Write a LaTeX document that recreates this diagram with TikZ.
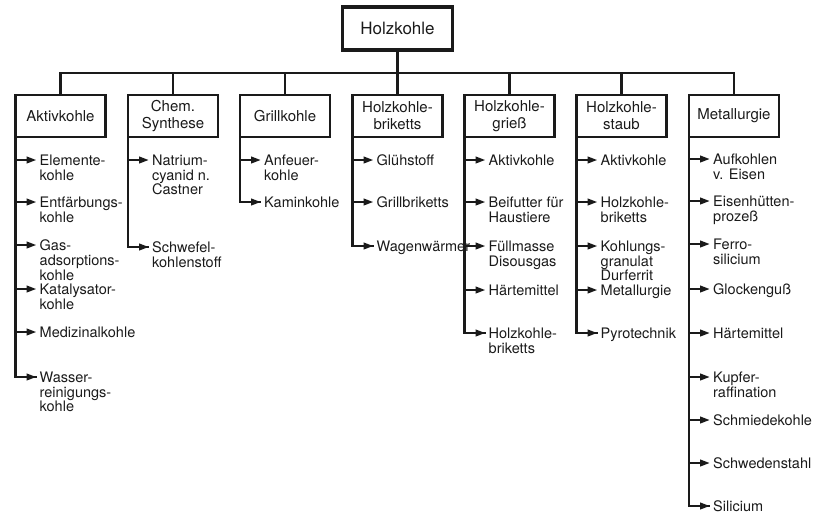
\documentclass[tikz,border=0pt]{standalone}
\usepackage{fontspec}
\setmainfont{TeX Gyre Heros}
\usetikzlibrary{arrows.meta,calc}
\definecolor{ink}{HTML}{1A1A1A}
\tikzset{
  topbox/.style={draw=ink, line width=3.2pt, outer sep=0pt, minimum width=110pt,
    minimum height=43pt, font=\fontsize{17}{18}\selectfont, text=ink},
  catbox/.style={draw=ink, line width=2.6pt, outer sep=0pt, minimum width=90pt,
    minimum height=42pt, align=center, font=\fontsize{15}{17}\selectfont, text=ink},
  leaf/.style={anchor=north west, inner sep=0pt, align=left, text=ink,
    font=\fontsize{14.5}{14.8}\selectfont, execute at begin node=\strut},
  link/.style={draw=ink, line width=2.4pt},
  arr/.style={link, -{Triangle[length=10pt,width=6.5pt]}},
}
% one column of uses below a category box: #1 box, #2 y of last entry, #3 entries y/text
\newcommand\branch[3]{%
  \foreach \iy/\itext in {#3} {
    \coordinate (#1-tip-\iy) at ([xshift=21pt]#1.south west |- 0,\iy);
    \node[leaf] (#1-\iy) at ([xshift=3pt,yshift=5.5pt]#1-tip-\iy) {\itext};
    \draw[arr] (#1.south west |- #1-tip-\iy) -- (#1-tip-\iy);
  }
  \draw[link] (#1.south west) |- (#1-tip-#2);
}
\begin{document}
\begin{tikzpicture}[x=1pt,y=-1pt]
\useasboundingbox (0,0) rectangle (815,515);

\node[topbox] (root) at (397.5,28.5) {Holzkohle};
\coordinate (bus) at (0,73);

\node[catbox] (akt) at (60.5,116) {Aktivkohle};
\node[catbox] (chem) at (173,116) {Chem.\\Synthese};
\node[catbox] (grill) at (285,116) {Grillkohle};
\node[catbox] (brik) at (397.5,116) {Holzkohle-\\briketts};
\node[catbox] (gries) at (509.5,116) {Holzkohle-\\grieß};
\node[catbox] (staub) at (621.5,116) {Holzkohle-\\staub};
\node[catbox] (met) at (734,116) {Metallurgie};

% distribution bus from the root to the categories
\draw[link] (root.south) -- (root.south |- bus);
\draw[link, line cap=rect] (akt.north |- bus) -- (met.north |- bus);
\foreach \c in {akt,chem,grill,brik,gries,staub,met}
  \draw[link] (\c.north |- bus) -- (\c.north);

\branch{akt}{377}{160/{Elemente-\\kohle}, 202/{Entfärbungs-\\kohle},
  245/{Gas-\\adsorptions-\\kohle}, 289/{Katalysator-\\kohle},
  332/{Medizinalkohle}, 377/{Wasser-\\reinigungs-\\kohle}}
\branch{chem}{247}{160/{Natrium-\\cyanid n.\\Castner}, 247/{Schwefel-\\kohlenstoff}}
\branch{grill}{202}{160/{Anfeuer-\\kohle}, 202/{Kaminkohle}}
\branch{brik}{246}{160/{Glühstoff}, 202/{Grillbriketts}, 246/{Wagenwärmer}}
\branch{gries}{333}{160/{Aktivkohle}, 202/{Beifutter für\\Haustiere},
  246/{Füllmasse\\Disousgas}, 290/{Härtemittel}, 333/{Holzkohle-\\briketts}}
\branch{staub}{333}{160/{Aktivkohle}, 202/{Holzkohle-\\briketts},
  246/{Kohlungs-\\granulat\\Durferrit}, 290/{Metallurgie}, 333/{Pyrotechnik}}
\branch{met}{506}{159/{Aufkohlen\\v. Eisen}, 201/{Eisenhütten-\\prozeß},
  244/{Ferro-\\silicium}, 289/{Glockenguß}, 333/{Härtemittel},
  377/{Kupfer-\\raffination}, 420/{Schmiedekohle}, 463/{Schwedenstahl},
  506/{Silicium}}
\end{tikzpicture}
\end{document}
